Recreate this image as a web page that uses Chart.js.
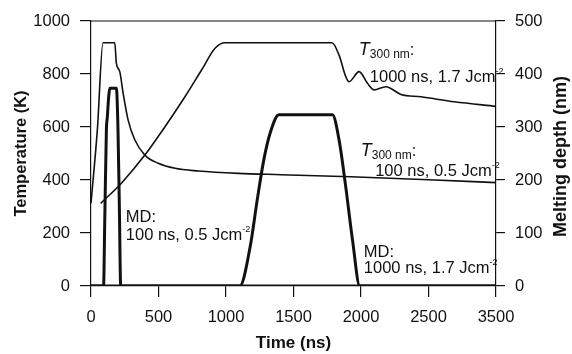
<!DOCTYPE html>
<html>
<head>
<meta charset="utf-8">
<script src="https://cdn.jsdelivr.net/npm/chart.js@4.4.1/dist/chart.umd.min.js"></script>
<style>
	html, body { margin: 0; padding: 0; background: #fff; }
	#wrap { width: 572px; height: 354px; }
</style>
</head>
<body>
<div id="wrap"><canvas id="meltChart" width="572" height="354"></canvas></div>
<script>
// tick labels as printed on the original (the last tick is labelled 3500)
const xTickLabels = ["0", "500", "1000", "1500", "2000", "2500", "3500"];

// T at 300 nm, 100 ns pulse, 0.5 J/cm2 (left axis, K)
const t100Time = [0, 47, 89, 176, 188, 213, 238, 275, 325, 399, 498, 622, 795, 1092, 1404, 1924, 2500, 3000];
const t100Temp = [312, 589, 918, 918, 840, 809, 727, 626, 551, 494, 463, 444, 434, 425, 420, 412, 401, 390];

// T at 300 nm, 1000 ns pulse, 1.7 J/cm2 (left axis, K)
const t1000Time = [72, 225, 399, 548, 696, 819, 919, 993, 1785, 1837, 1887, 1912, 1986, 2048, 2097, 2184, 2296, 2444, 2692, 3000];
const t1000Temp = [312, 388, 494, 601, 714, 815, 897, 918, 918, 872, 790, 771, 809, 765, 740, 752, 723, 714, 695, 678];

// melting depth, 100 ns pulse (right axis, nm)
const md100Time = [0, 93, 102, 114, 121, 131, 139, 188, 200, 210, 220, 3000];
const md100Depth = [0, 0, 125, 294, 319, 357, 373, 373, 294, 150, 0, 0];

// melting depth, 1000 ns pulse (right axis, nm)
const md1000Time = [0, 1102, 1181, 1231, 1280, 1330, 1392, 1788, 1838, 1887, 1937, 1991, 3000];
const md1000Depth = [0, 0, 77, 162, 238, 291, 323, 323, 275, 187, 87, 0, 0];

const ink = "#111";
const font = "'Liberation Sans', Arial, sans-serif";

function pts(xs, ys) {
	return xs.map((x, i) => ({ x: x, y: ys[i] }));
}

function drawRich(ctx, x, y, parts) {
	let cx = x;
	parts.forEach(p => {
		ctx.font = p.font;
		ctx.fillText(p.text, cx, y + (p.dy || 0));
		cx += ctx.measureText(p.text).width + (p.gap || 0);
	});
}

const normal = "16.5px " + font;
const italicT = "italic 18px " + font;
const sub = "12px " + font;
const sup = "9px " + font;

function tLabel() {
	return [
		{ text: "T", font: italicT },
		{ text: "300 nm", font: sub, dy: 3 },
		{ text: ":", font: normal }
	];
}
function caseLabel(str) {
	return [
		{ text: str + " Jcm", font: normal },
		{ text: "-2", font: sup, dy: -8 }
	];
}

const annotations = {
	id: "annotations",
	afterDraw(chart) {
		const ctx = chart.ctx;
		const xs = chart.scales.x;
		const ys = chart.scales.y;
		const area = chart.chartArea;
		ctx.save();
		// top frame line
		ctx.strokeStyle = ink;
		ctx.lineWidth = 1.2;
		ctx.beginPath();
		ctx.moveTo(area.left, area.top);
		ctx.lineTo(area.right, area.top);
		ctx.stroke();

		ctx.fillStyle = ink;
		ctx.textBaseline = "alphabetic";
		ctx.textAlign = "left";
		const at = (t, v) => [xs.getPixelForValue(t), ys.getPixelForValue(v)];
		let p;
		p = at(1984, 870); drawRich(ctx, p[0], p[1], tLabel());
		p = at(2065, 770); drawRich(ctx, p[0], p[1], caseLabel("1000 ns, 1.7"));
		p = at(1998, 490); drawRich(ctx, p[0], p[1], tLabel());
		p = at(2105, 415); drawRich(ctx, p[0], p[1], caseLabel("100 ns, 0.5"));
		p = at(2021, 109); drawRich(ctx, p[0], p[1], [{ text: "MD:", font: normal }]);
		p = at(2021, 49); drawRich(ctx, p[0], p[1], caseLabel("1000 ns, 1.7"));
		p = at(258, 242); drawRich(ctx, p[0], p[1], [{ text: "MD:", font: normal }]);
		p = at(258, 174); drawRich(ctx, p[0], p[1], caseLabel("100 ns, 0.5"));

		// axis titles
		const midY = (area.top + area.bottom) / 2;
		ctx.textAlign = "center";
		ctx.font = "bold 17px " + font;
		ctx.fillText("Time (ns)", (area.left + area.right) / 2, 348);
		ctx.textBaseline = "middle";
		ctx.save();
		ctx.translate(21, midY);
		ctx.rotate(-Math.PI / 2);
		ctx.font = "bold 16.5px " + font;
		ctx.fillText("Temperature (K)", 0, 0);
		ctx.restore();
		ctx.save();
		ctx.translate(561, midY + 3);
		ctx.rotate(-Math.PI / 2);
		ctx.font = "bold 18px " + font;
		ctx.fillText("Melting depth (nm)", 0, 0);
		ctx.restore();
		ctx.restore();
	}
};

new Chart(document.getElementById("meltChart"), {
	type: "line",
	data: {
		datasets: [
			{
				label: "T 100 ns",
				data: pts(t100Time, t100Temp),
				borderColor: ink,
				borderWidth: 1.6,
				yAxisID: "y"
			},
			{
				label: "T 1000 ns",
				data: pts(t1000Time, t1000Temp),
				borderColor: ink,
				borderWidth: 1.6,
				yAxisID: "y"
			},
			{
				label: "MD 100 ns",
				data: pts(md100Time, md100Depth),
				borderColor: ink,
				borderWidth: 3,
				yAxisID: "y1"
			},
			{
				label: "MD 1000 ns",
				data: pts(md1000Time, md1000Depth),
				borderColor: ink,
				borderWidth: 3,
				yAxisID: "y1"
			}
		]
	},
	options: {
		responsive: false,
		animation: false,
		elements: {
			point: { radius: 0 },
			line: { cubicInterpolationMode: "monotone", fill: false }
		},
		layout: { padding: { top: 21, left: 0, right: 0, bottom: 0 } },
		plugins: {
			legend: { display: false },
			tooltip: { enabled: false }
		},
		scales: {
			x: {
				type: "linear",
				min: 0,
				max: 3000,
				afterFit: s => { s.height = 68; },
				border: { color: ink, width: 1.2 },
				grid: { drawOnChartArea: false, color: ink, tickLength: 11, lineWidth: 1.2 },
				ticks: {
					stepSize: 500,
					color: ink,
					padding: 11,
					font: { family: font, size: 16.5 },
					callback: (v, i) => xTickLabels[i]
				}
			},
			y: {
				position: "left",
				min: 0,
				max: 1000,
				afterFit: s => { s.width = 91; },
				border: { color: ink, width: 1.2 },
				grid: { drawOnChartArea: false, color: ink, tickLength: 11, lineWidth: 1.2 },
				ticks: {
					stepSize: 200,
					color: ink,
					padding: 10,
					font: { family: font, size: 16.5 },
					callback: v => String(v)
				}
			},
			y1: {
				position: "right",
				min: 0,
				max: 500,
				afterFit: s => { s.width = 76; },
				border: { color: ink, width: 1.2 },
				grid: { drawOnChartArea: false, color: ink, tickLength: 9, lineWidth: 1.2 },
				ticks: {
					stepSize: 100,
					color: ink,
					padding: 10,
					font: { family: font, size: 16.5 },
					callback: v => String(v)
				}
			}
		}
	},
	plugins: [annotations]
});
</script>
</body>
</html>
